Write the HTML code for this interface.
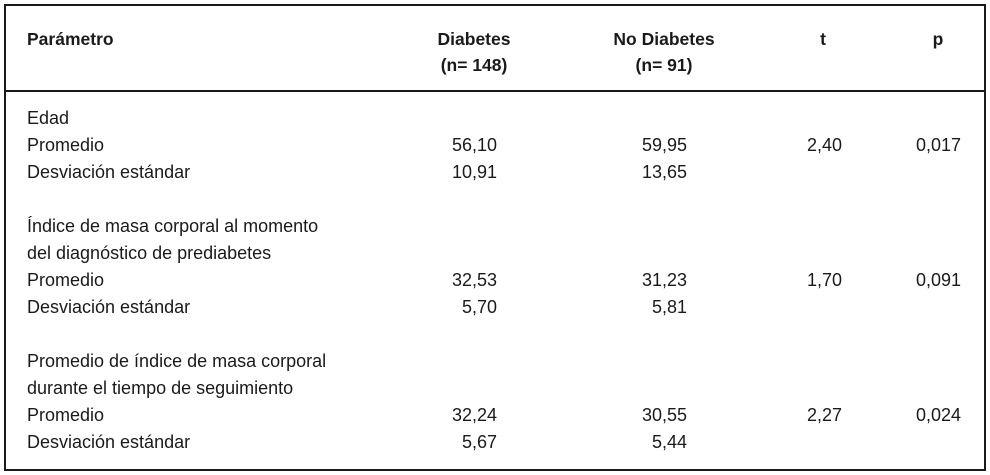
<!DOCTYPE html>
<html><head><meta charset="utf-8"><style>
body{margin:0;width:990px;height:475px;background:#fff;position:relative;overflow:hidden;font-family:"Liberation Sans",sans-serif;color:#1a1a1a;font-size:18px}
.box{position:absolute;left:4px;top:4px;width:978px;height:463px;border:2px solid #1a1a1a}
.hr{position:absolute;left:4px;width:982px;top:90px;height:2px;background:#1a1a1a}
.t{position:absolute;white-space:nowrap;line-height:20px}
.b{font-weight:bold;font-size:17.5px}
.r{text-align:right}
.c{text-align:center}
</style></head><body>
<div class="box"></div><div class="hr"></div>
<div class="t b" style="left:27px;top:29px">Parámetro</div>
<div class="t b c" style="left:404px;width:140px;top:29px">Diabetes</div>
<div class="t b c" style="left:404px;width:140px;top:55px">(n= 148)</div>
<div class="t b c" style="left:594px;width:140px;top:29px">No Diabetes</div>
<div class="t b c" style="left:594px;width:140px;top:55px">(n= 91)</div>
<div class="t b c" style="left:803px;width:40px;top:29px">t</div>
<div class="t b c" style="left:918px;width:40px;top:29px">p</div>

<div class="t" style="left:27px;top:108px">Edad</div>
<div class="t" style="left:27px;top:135px">Promedio</div>
<div class="t" style="left:27px;top:162px">Desviación estándar</div>
<div class="t" style="left:27px;top:216px">Índice de masa corporal al momento</div>
<div class="t" style="left:27px;top:243px">del diagnóstico de prediabetes</div>
<div class="t" style="left:27px;top:270px">Promedio</div>
<div class="t" style="left:27px;top:297px">Desviación estándar</div>
<div class="t" style="left:27px;top:351px">Promedio de índice de masa corporal</div>
<div class="t" style="left:27px;top:378px">durante el tiempo de seguimiento</div>
<div class="t" style="left:27px;top:405px">Promedio</div>
<div class="t" style="left:27px;top:432px">Desviación estándar</div>

<div class="t r" style="left:397px;width:100px;top:135px">56,10</div>
<div class="t r" style="left:397px;width:100px;top:162px">10,91</div>
<div class="t r" style="left:397px;width:100px;top:270px">32,53</div>
<div class="t r" style="left:397px;width:100px;top:297px">5,70</div>
<div class="t r" style="left:397px;width:100px;top:405px">32,24</div>
<div class="t r" style="left:397px;width:100px;top:432px">5,67</div>

<div class="t r" style="left:587px;width:100px;top:135px">59,95</div>
<div class="t r" style="left:587px;width:100px;top:162px">13,65</div>
<div class="t r" style="left:587px;width:100px;top:270px">31,23</div>
<div class="t r" style="left:587px;width:100px;top:297px">5,81</div>
<div class="t r" style="left:587px;width:100px;top:405px">30,55</div>
<div class="t r" style="left:587px;width:100px;top:432px">5,44</div>

<div class="t r" style="left:742px;width:100px;top:135px">2,40</div>
<div class="t r" style="left:742px;width:100px;top:270px">1,70</div>
<div class="t r" style="left:742px;width:100px;top:405px">2,27</div>
<div class="t r" style="left:861px;width:100px;top:135px">0,017</div>
<div class="t r" style="left:861px;width:100px;top:270px">0,091</div>
<div class="t r" style="left:861px;width:100px;top:405px">0,024</div>
</body></html>
